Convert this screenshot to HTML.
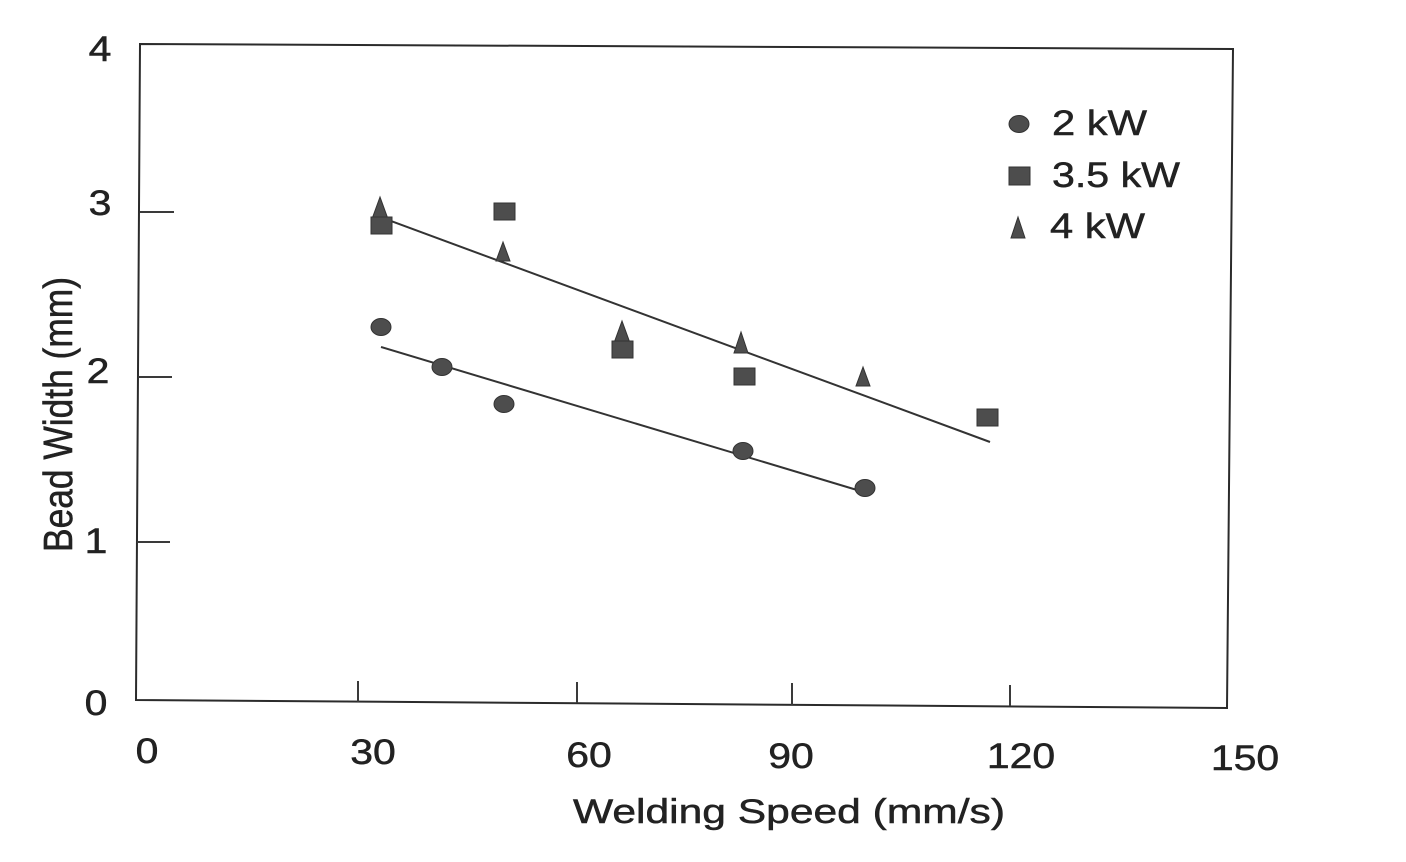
<!DOCTYPE html>
<html>
<head>
<meta charset="utf-8">
<style>
  html,body{margin:0;padding:0;background:#fff;}
  svg{display:block;}
  text{font-family:"Liberation Sans", Arial, sans-serif; fill:#222; stroke:#222; stroke-width:0.5;}
</style>
</head>
<body>
<svg width="1406" height="862" viewBox="0 0 1406 862" xmlns="http://www.w3.org/2000/svg">
  <rect x="0" y="0" width="1406" height="862" fill="#ffffff"/>

  <!-- frame -->
  <polygon points="140,44 1233,49 1227,708 136,700" fill="none" stroke="#2b2b2b" stroke-width="2"/>

  <!-- y ticks -->
  <line x1="140" y1="212" x2="174" y2="212" stroke="#3a3a3a" stroke-width="2"/>
  <line x1="138" y1="377" x2="172" y2="377" stroke="#3a3a3a" stroke-width="2"/>
  <line x1="137" y1="542" x2="170" y2="542" stroke="#3a3a3a" stroke-width="2"/>
  <!-- x ticks -->
  <line x1="358" y1="681" x2="358" y2="702" stroke="#3a3a3a" stroke-width="2"/>
  <line x1="577" y1="682" x2="577" y2="703" stroke="#3a3a3a" stroke-width="2"/>
  <line x1="792" y1="683" x2="792" y2="705" stroke="#3a3a3a" stroke-width="2"/>
  <line x1="1010" y1="685" x2="1010" y2="706" stroke="#3a3a3a" stroke-width="2"/>

  <!-- y tick labels -->
  <g font-size="35" text-anchor="middle">
    <text transform="translate(100,61) scale(1.17,1)">4</text>
    <text transform="translate(100,215) scale(1.17,1)">3</text>
    <text transform="translate(98,383) scale(1.17,1)">2</text>
    <text transform="translate(96,553) scale(1.17,1)">1</text>
    <text transform="translate(96,715) scale(1.17,1)">0</text>
  </g>

  <!-- x tick labels -->
  <g font-size="35" text-anchor="middle">
    <text transform="translate(147,763) scale(1.17,1)">0</text>
    <text transform="translate(373,764) scale(1.17,1)">30</text>
    <text transform="translate(589,767) scale(1.17,1)">60</text>
    <text transform="translate(791,768) scale(1.17,1)">90</text>
    <text transform="translate(1021,768) scale(1.17,1)">120</text>
    <text transform="translate(1245,770) scale(1.17,1)">150</text>
  </g>

  <!-- axis titles -->
  <text x="573" y="823" font-size="34" textLength="432" lengthAdjust="spacingAndGlyphs">Welding Speed (mm/s)</text>
  <text transform="translate(72,552) scale(1.17,1) rotate(-90)" font-size="35" textLength="275" lengthAdjust="spacingAndGlyphs">Bead Width (mm)</text>

  <!-- fit lines -->
  <line x1="380" y1="217" x2="990" y2="442" stroke="#333" stroke-width="2"/>
  <line x1="381" y1="347" x2="857" y2="490" stroke="#333" stroke-width="2"/>

  <!-- 2 kW circles -->
  <g fill="#4d4d4d" stroke="#333" stroke-width="1">
    <ellipse cx="381" cy="327" rx="10" ry="8.5"/>
    <ellipse cx="442" cy="367" rx="10" ry="8.5"/>
    <ellipse cx="504" cy="404" rx="10" ry="8.5"/>
    <ellipse cx="743" cy="451" rx="10" ry="8.5"/>
    <ellipse cx="865" cy="488" rx="10" ry="8.5"/>
  </g>

  <!-- 4 kW triangles -->
  <g fill="#4d4d4d" stroke="#333" stroke-width="1">
    <polygon points="380,197 372,219 388,219"/>
    <polygon points="503,242 496,261 510,261"/>
    <polygon points="622,321 614,343 630,343"/>
    <polygon points="741,332 734,353 748,353"/>
    <polygon points="863,367 856,386 870,386"/>
  </g>

  <!-- 3.5 kW squares -->
  <g fill="#4d4d4d" stroke="#333" stroke-width="1">
    <rect x="371" y="217" width="21" height="17"/>
    <rect x="494" y="203" width="21" height="17"/>
    <rect x="612" y="341" width="21" height="17"/>
    <rect x="734" y="368" width="21" height="17"/>
    <rect x="977" y="409" width="21" height="17"/>
  </g>

  <!-- legend -->
  <g fill="#4d4d4d" stroke="#333" stroke-width="1">
    <ellipse cx="1019" cy="124" rx="10" ry="8.5"/>
    <rect x="1009" y="167" width="21" height="18"/>
    <polygon points="1018,217 1011,238 1025,238"/>
  </g>
  <g font-size="35">
    <text x="1052" y="135" textLength="95" lengthAdjust="spacingAndGlyphs">2 kW</text>
    <text x="1052" y="187" textLength="128" lengthAdjust="spacingAndGlyphs">3.5 kW</text>
    <text x="1050" y="238" textLength="95" lengthAdjust="spacingAndGlyphs">4 kW</text>
  </g>
</svg>
</body>
</html>
